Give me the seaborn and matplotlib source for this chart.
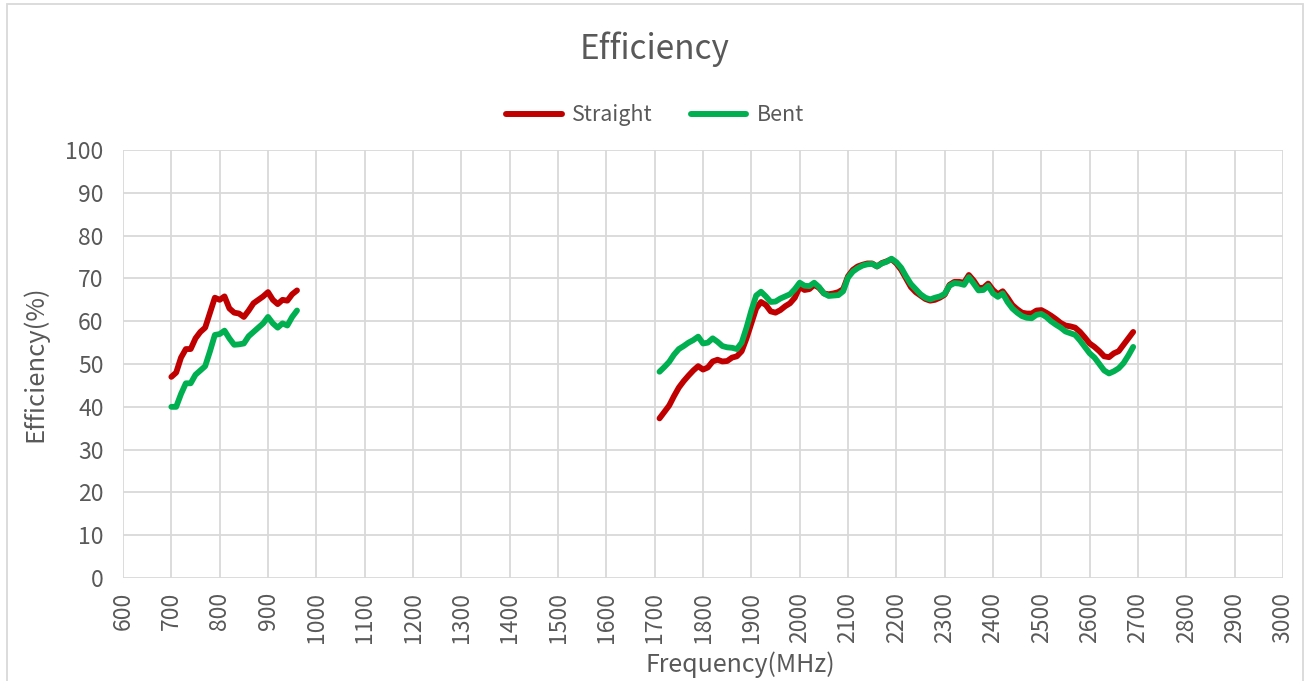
import numpy as np
import pandas as pd
import matplotlib
matplotlib.use("Agg")
import matplotlib.pyplot as plt
import seaborn as sns
from matplotlib.patches import Rectangle

# low band, 700-960 MHz in 10 MHz steps
freq_low = list(range(700, 961, 10))
straight_low = [47.0, 48.0, 51.5, 53.5, 53.5, 56.0, 57.5, 58.5, 62.0, 65.5,
                65.0, 65.8, 63.0, 62.0, 61.8, 61.0, 62.5, 64.2, 65.0, 65.8,
                66.8, 65.0, 64.0, 65.0, 64.8, 66.3, 67.2]
bent_low = [40.0, 40.0, 43.0, 45.5, 45.5, 47.5, 48.5, 49.5, 53.0, 56.8,
            57.0, 57.8, 56.0, 54.5, 54.6, 54.8, 56.5, 57.5, 58.5, 59.5,
            61.0, 59.5, 58.5, 59.5, 59.0, 61.0, 62.5]

# high band, 1710-2690 MHz in 10 MHz steps
freq_high = list(range(1710, 2691, 10))
straight_high = [37.3, 38.8, 40.3, 42.5, 44.5, 46.0, 47.3, 48.5, 49.5, 48.7,
                 49.2, 50.6, 51.0, 50.6, 50.7, 51.5, 51.8, 53.0, 56.0, 59.5,
                 63.0, 64.5, 63.8, 62.3, 62.0, 62.6, 63.5, 64.2, 65.5, 68.0,
                 67.3, 67.5, 68.5, 67.8, 66.5, 66.3, 66.5, 66.8, 67.5, 70.5,
                 72.0, 72.8, 73.2, 73.5, 73.5, 72.8, 73.6, 74.0, 74.5, 73.5,
                 72.0, 70.0, 68.0, 66.8, 66.0, 65.2, 64.8, 65.0, 65.5, 66.2,
                 68.5, 69.2, 69.2, 69.0, 70.8, 69.5, 67.8, 67.8, 68.8, 67.3,
                 66.3, 67.0, 65.5, 63.8, 62.8, 62.0, 61.8, 61.8, 62.5, 62.6,
                 62.0, 61.3, 60.5, 59.6, 59.0, 58.8, 58.5, 57.5, 56.2, 54.8,
                 54.0, 53.0, 51.8, 51.6, 52.5, 53.0, 54.5, 56.0, 57.5]
bent_high = [48.2, 49.3, 50.5, 52.2, 53.5, 54.2, 55.0, 55.6, 56.4, 54.8,
             55.0, 56.0, 55.2, 54.2, 53.9, 53.8, 53.5, 55.0, 58.5, 62.5,
             66.0, 66.9, 65.8, 64.5, 64.6, 65.3, 65.8, 66.3, 67.5, 69.0,
             68.3, 68.2, 69.0, 68.0, 66.5, 65.9, 66.0, 66.1, 67.0, 70.2,
             71.6, 72.4, 73.0, 73.3, 73.4, 72.8, 73.5, 73.9, 74.6, 73.8,
             72.5, 70.5, 68.7, 67.5, 66.3, 65.5, 65.1, 65.5, 65.8, 66.4,
             68.3, 68.9, 68.8, 68.5, 70.3, 68.8, 67.2, 67.3, 68.3, 66.5,
             65.7, 66.5, 64.5, 63.0, 62.0, 61.2, 60.8, 60.7, 61.5, 61.7,
             61.0, 60.0, 59.2, 58.5, 57.6, 57.2, 56.8, 55.5, 54.0, 52.5,
             51.5, 50.0, 48.5, 47.8, 48.3, 49.0, 50.2, 52.0, 54.0]

series_names = ["Straight", "Bent"]
colors = {"Straight": "#C00000", "Bent": "#00B050"}

rows = []
for band, fr, s, b in [("low", freq_low, straight_low, bent_low),
                       ("high", freq_high, straight_high, bent_high)]:
    rows.append(pd.DataFrame({"freq": fr, "eff": s, "series": "Straight", "band": band}))
    rows.append(pd.DataFrame({"freq": fr, "eff": b, "series": "Bent", "band": band}))
df = pd.concat(rows, ignore_index=True)

sns.set_theme(style="white")
plt.rcParams["font.family"] = ["Noto Sans CJK SC", "DejaVu Sans"]
plt.rcParams["font.weight"] = "light"
text_color = "#595959"
grid_color = "#D9D9D9"

fig = plt.figure(figsize=(13.1, 6.81), dpi=100)
ax = fig.add_axes([0.0939, 0.1512, 0.8855, 0.6285])

sns.lineplot(data=df, x="freq", y="eff", hue="series", hue_order=series_names,
             units="band", estimator=None, palette=colors, linewidth=4.2,
             sort=False, legend=True, ax=ax)
for ln in ax.get_lines():
    ln.set_solid_capstyle("round")
    ln.set_solid_joinstyle("round")

ax.set_xlim(600, 3000)
ax.set_ylim(0, 100)
ax.set_xticks(range(600, 3001, 100))
ax.set_yticks(range(0, 101, 10))
ax.tick_params(axis="x", labelrotation=90, labelsize=16.5, colors=text_color, length=0, pad=10)
ax.tick_params(axis="y", labelsize=16.5, colors=text_color, length=0, pad=14)
ax.grid(True, color=grid_color, linewidth=1.3)
ax.set_axisbelow(True)
for sp in ax.spines.values():
    sp.set_visible(False)

ax.set_xlabel("Frequency(MHz)", fontsize=18, color=text_color, labelpad=6)
ax.xaxis.label.set_x(0.532)
ax.set_ylabel("Efficiency(%)", fontsize=18.5, color=text_color, labelpad=12)

fig.text(0.5, 0.928, "Efficiency", ha="center", va="center", fontsize=24, color=text_color)

handles, labels = ax.get_legend_handles_labels()
ax.get_legend().remove()
leg = fig.legend(handles, labels, loc="center", bbox_to_anchor=(0.5, 0.831), ncol=2,
                 frameon=False, fontsize=15.5, handlelength=2.6, columnspacing=1.75,
                 handletextpad=0.47)
for t in leg.get_texts():
    t.set_color(text_color)
for h in leg.legend_handles:
    h.set_linewidth(4.3)
    h.set_solid_capstyle("round")

fig.patches.append(Rectangle((0.0053, -0.01), 0.989, 1.004, transform=fig.transFigure,
                             fill=False, edgecolor=grid_color, linewidth=1.3))

fig.savefig("out.png", dpi=100)
